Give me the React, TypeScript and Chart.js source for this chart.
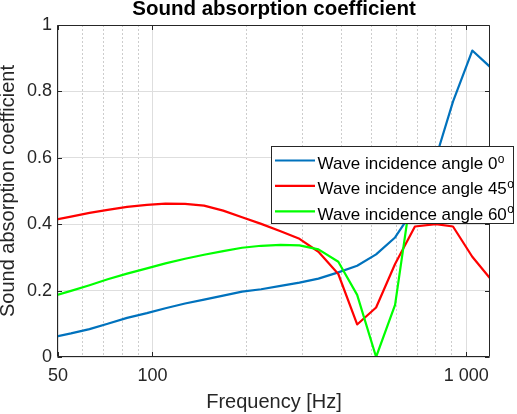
import React, { useEffect, useRef } from 'react';
import { Chart, registerables } from 'chart.js';

Chart.register(...registerables);

// Frequencies [Hz]
const frequencies = [50, 55, 63, 72, 83, 96, 110, 127, 146, 168, 193, 222, 256, 294, 338, 391, 449, 516, 593, 686, 800, 907, 1045, 1190];
// Sound absorption coefficient per incidence angle
const alpha0 = [0.063, 0.071, 0.084, 0.1, 0.118, 0.132, 0.147, 0.161, 0.173, 0.185, 0.197, 0.204, 0.214, 0.224, 0.236, 0.255, 0.275, 0.309, 0.36, 0.45, 0.6, 0.769, 0.923, 0.874];
const alpha45 = [0.415, 0.423, 0.434, 0.443, 0.452, 0.458, 0.462, 0.461, 0.456, 0.441, 0.421, 0.401, 0.379, 0.356, 0.317, 0.25, 0.098, 0.149, 0.28, 0.393, 0.4, 0.393, 0.302, 0.237];
const alpha60 = [0.188, 0.199, 0.216, 0.234, 0.251, 0.267, 0.282, 0.296, 0.308, 0.319, 0.329, 0.335, 0.338, 0.336, 0.324, 0.287, 0.187, 0.0, 0.157, 0.57, 0.52, 0.48, 0.45, 0.43];

const seriesLabels = ['Wave incidence angle 0', 'Wave incidence angle 45', 'Wave incidence angle 60'];
const seriesColors = ['#0072BD', '#FF0000', '#00FF00'];
const degreeMark = 'o';

const xMajorTicks = [50, 100, 1000];
const xMajorLabels = ['50', '100', '1 000'];
const xMinorTicks = [60, 70, 80, 90, 200, 300, 400, 500, 600, 700, 800, 900];
const yTicks = [0, 0.2, 0.4, 0.6, 0.8, 1];
const yTickLabels = ['0', '0.2', '0.4', '0.6', '0.8', '1'];

const FONT = '"Liberation Sans", Arial, Helvetica, sans-serif';
const AXIS_COLOR = '#262626';

const framePlugin = {
  id: 'matlabFrame',
  afterDatasetsDraw(chart: any) {
    const { ctx, chartArea, scales } = chart;
    const { left, right, top, bottom } = chartArea;
    const L = Math.round(left) - 0.5;
    const R = Math.round(right) - 0.5;
    const T = Math.round(top) + 0.5;
    const B = Math.round(bottom) - 0.5;
    ctx.save();
    ctx.strokeStyle = AXIS_COLOR;
    ctx.lineWidth = 1;
    ctx.setLineDash([]);
    ctx.beginPath();
    ctx.rect(L, T, R - L, B - T);
    ctx.stroke();
    const tl = 4.5;
    ctx.beginPath();
    yTicks.forEach((v) => {
      const py = Math.round(scales.y.getPixelForValue(v)) + 0.5;
      ctx.moveTo(L, py);
      ctx.lineTo(L + tl, py);
      ctx.moveTo(R, py);
      ctx.lineTo(R - tl, py);
    });
    xMajorTicks.forEach((v) => {
      const px = Math.round(scales.x.getPixelForValue(v)) + 0.5;
      ctx.moveTo(px, B);
      ctx.lineTo(px, B - tl);
      ctx.moveTo(px, T);
      ctx.lineTo(px, T + tl);
    });
    ctx.stroke();
    ctx.restore();
  },
  afterDraw(chart: any) {
    const { ctx, chartArea } = chart;
    const boxL = Math.round(chartArea.right - 219.5) + 0.5;
    const boxR = Math.round(chartArea.right + 23) + 0.5;
    const boxT = Math.round(chartArea.top + 120.5) + 0.5;
    const boxH = 77;
    ctx.save();
    ctx.fillStyle = '#ffffff';
    ctx.fillRect(boxL, boxT, boxR - boxL, boxH);
    ctx.strokeStyle = AXIS_COLOR;
    ctx.lineWidth = 1;
    ctx.strokeRect(boxL, boxT, boxR - boxL, boxH);
    chart.data.datasets.forEach((ds: any, i: number) => {
      const rowY = boxT + 14 + i * 25.4;
      ctx.strokeStyle = ds.borderColor;
      ctx.lineWidth = 2.2;
      ctx.beginPath();
      ctx.moveTo(boxL + 3.5, rowY);
      ctx.lineTo(boxL + 43.5, rowY);
      ctx.stroke();
      ctx.fillStyle = '#000000';
      ctx.textAlign = 'left';
      ctx.textBaseline = 'alphabetic';
      ctx.font = `17px ${FONT}`;
      const tx = boxL + 46;
      const baseY = rowY + 8.5;
      ctx.fillText(ds.label, tx, baseY);
      const w = ctx.measureText(ds.label).width;
      ctx.font = `12px ${FONT}`;
      ctx.fillText(degreeMark, tx + w + 0.5, baseY - 6.5);
    });
    ctx.restore();
  },
};

export default function App() {
  const canvasRef = useRef<HTMLCanvasElement | null>(null);

  useEffect(() => {
    if (!canvasRef.current) return;
    Chart.defaults.font.family = FONT;
    const seriesValues = [alpha0, alpha45, alpha60];
    const chart = new Chart(canvasRef.current, {
      type: 'line',
      data: {
        datasets: seriesValues.map((vals, i) => ({
          label: seriesLabels[i],
          data: frequencies.map((f, k) => ({ x: f, y: vals[k] })),
          borderColor: seriesColors[i],
          backgroundColor: seriesColors[i],
          borderWidth: 2.2,
          pointRadius: 0,
          tension: 0,
          fill: false,
          borderJoinStyle: 'round' as const,
          borderCapStyle: 'round' as const,
          order: 3 - i,
        })),
      },
      options: {
        responsive: false,
        animation: false,
        events: [],
        layout: { padding: { left: 0, right: 27, top: 0, bottom: 0 } },
        plugins: {
          legend: { display: false },
          tooltip: { enabled: false },
          title: {
            display: true,
            text: 'Sound absorption coefficient',
            color: '#000000',
            fullSize: false,
            font: { size: 20.5, weight: 'bold', lineHeight: 0.9 },
            padding: { top: 0, bottom: 6.55 },
          },
        },
        scales: {
          x: {
            type: 'logarithmic',
            position: 'bottom',
            min: 50,
            max: 1190,
            afterBuildTicks: (s: any) => {
              s.ticks = [...xMajorTicks, ...xMinorTicks].sort((a, b) => a - b).map((v) => ({ value: v }));
            },
            afterFit: (s: any) => {
              s.height = 57;
            },
            ticks: {
              autoSkip: false,
              maxRotation: 0,
              minRotation: 0,
              padding: 8,
              color: AXIS_COLOR,
              font: { size: 18 },
              callback: (v: any) => {
                const i = xMajorTicks.indexOf(Number(v));
                return i >= 0 ? xMajorLabels[i] : '';
              },
            },
            grid: {
              drawTicks: false,
              lineWidth: 1,
              color: (c: any) => (c.tick && xMinorTicks.includes(c.tick.value) ? '#cdcdcd' : '#dedede'),
            },
            border: {
              display: false,
              dash: (c: any) => (c.tick && xMinorTicks.includes(c.tick.value) ? [2, 2] : []),
            },
            title: {
              display: true,
              text: 'Frequency [Hz]',
              color: AXIS_COLOR,
              font: { size: 20, lineHeight: 1.2 },
              padding: 0,
            },
          },
          y: {
            type: 'linear',
            min: 0,
            max: 1,
            afterBuildTicks: (s: any) => {
              s.ticks = yTicks.map((v) => ({ value: v }));
            },
            afterFit: (s: any) => {
              s.width = 58;
            },
            ticks: {
              padding: 6,
              color: AXIS_COLOR,
              font: { size: 18 },
              callback: (v: any) => {
                const i = yTicks.indexOf(Number(v));
                return i >= 0 ? yTickLabels[i] : '';
              },
            },
            grid: { drawTicks: false, lineWidth: 1, color: '#dedede' },
            border: { display: false },
            title: {
              display: true,
              text: 'Sound absorption coefficient',
              color: AXIS_COLOR,
              font: { size: 20, lineHeight: 0.8 },
              padding: 0,
            },
          },
        },
      } as any,
      plugins: [framePlugin],
    });
    return () => chart.destroy();
  }, []);

  return (
    <div style={{ position: 'fixed', left: 0, top: 0, width: 517, height: 414, background: '#ffffff' }}>
      <canvas ref={canvasRef} width={517} height={414} style={{ width: 517, height: 414, display: 'block' }} />
    </div>
  );
}
